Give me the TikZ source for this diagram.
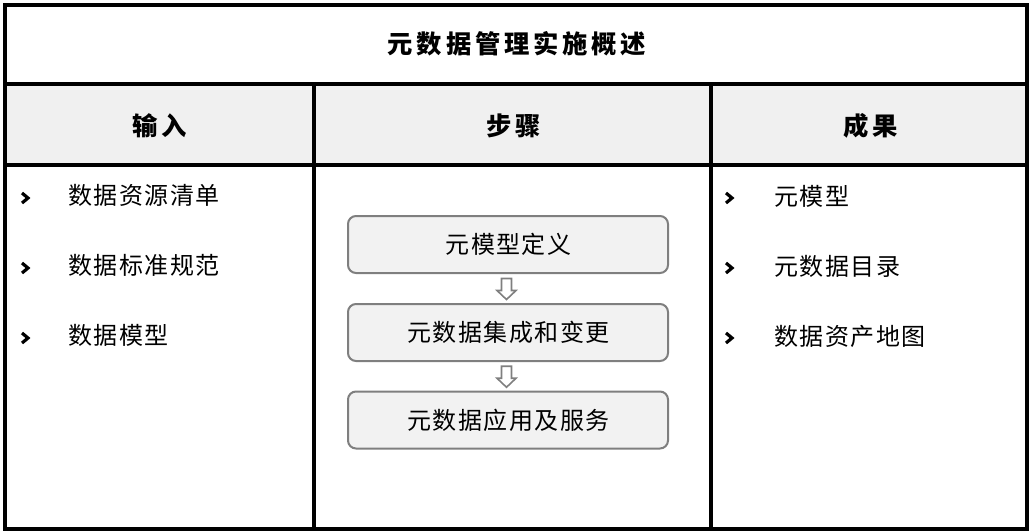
\documentclass[tikz,border=0pt]{standalone}
\usepackage{fontspec}
\setmainfont{Noto Sans CJK SC}
\newfontfamily\cjk{Noto Sans CJK SC}[LetterSpace=6]
\newfontfamily\cjkt{Noto Sans CJK SC}[LetterSpace=15]
\usetikzlibrary{calc}
\definecolor{headfill}{HTML}{F0F0F0}
\definecolor{boxfill}{HTML}{F2F2F2}
\definecolor{boxgray}{HTML}{7F7F7F}
\begin{document}
\begin{tikzpicture}[x=0.75pt,y=-0.75pt,
  frame/.style={line width=3pt, draw=black},
  titletext/.style={inner sep=0, font=\cjkt\bfseries\fontsize{19}{22}\selectfont},
  headtext/.style={inner sep=0, font=\cjkt\bfseries\fontsize{19}{22}\selectfont},
  item/.style={anchor=west, inner sep=0, font=\cjk\fontsize{18}{21}\selectfont},
  chev/.pic={\draw[line width=2.4pt, line join=miter, line cap=butt] (-3.5,-5) -- (2.5,0) -- (-3.5,5);},
  stepbox/.style={draw=boxgray, fill=boxfill, line width=1.5pt, rounded corners=6pt,
    minimum width=240pt, minimum height=42.75pt, inner sep=0,
    font=\cjk\fontsize{18}{21}\selectfont},
  flowarrow/.style={draw=boxgray, fill=white, line width=1.2pt, line join=miter}
]
\useasboundingbox (0,0) rectangle (1032,532);
% header band
\fill[headfill] (4.5,84) rectangle (1027,165);
% frame and grid
\draw[frame] (4.5,4.5) rectangle (1027,528.5);
\draw[frame] (4.5,84) -- (1027,84);
\draw[frame] (4.5,165) -- (1027,165);
\draw[frame] (314,84) -- (314,528.5);
\draw[frame] (711,84) -- (711,528.5);

% title and headers
\node[titletext] (title) at (517,44) {元数据管理实施概述};
\node[headtext] (hin) at (160,126) {输入};
\node[headtext] (hstep) at (514,126) {步骤};
\node[headtext] (hout) at (871,126) {成果};

% left column
\coordinate (lb1) at (25.5,198);
\coordinate (lb2) at (25.5,268);
\coordinate (lb3) at (25.5,338);
\foreach \b in {lb1,lb2,lb3}{ \pic at (\b) {chev}; }
\node[item] (l1) at (68,195) {数据资源清单};
\node[item] (l2) at (68,265) {数据标准规范};
\node[item] (l3) at (68,335) {数据模型};

% right column
\coordinate (rb1) at (729.5,198);
\coordinate (rb2) at (729.5,268);
\coordinate (rb3) at (729.5,338);
\foreach \b in {rb1,rb2,rb3}{ \pic at (\b) {chev}; }
\node[item] (r1) at (774,196) {元模型};
\node[item] (r2) at (774,266) {元数据目录};
\node[item] (r3) at (774,336) {数据资产地图};

% steps
\node[stepbox] (s1) at (508,244.5) {\hspace*{0.7pt}元模型定义};
\node[stepbox] (s2) at (508,332.5) {\hspace*{0.7pt}元数据集成和变更};
\node[stepbox] (s3) at (508,420) {\hspace*{0.7pt}元数据应用及服务};

\coordinate (m1) at ($(s1.south)!0.5!(s2.north)$);
\coordinate (m2) at ($(s2.south)!0.5!(s3.north)$);
\foreach \m in {m1,m2}{
  \draw[flowarrow] ($(\m)+(-6.5,-10)$) -- ++(10,0) -- ++(0,12) -- ++(4.5,0)
    -- ++(-9.5,9) -- ++(-9.5,-9) -- ++(4.5,0) -- cycle;
}
\end{tikzpicture}
\end{document}
